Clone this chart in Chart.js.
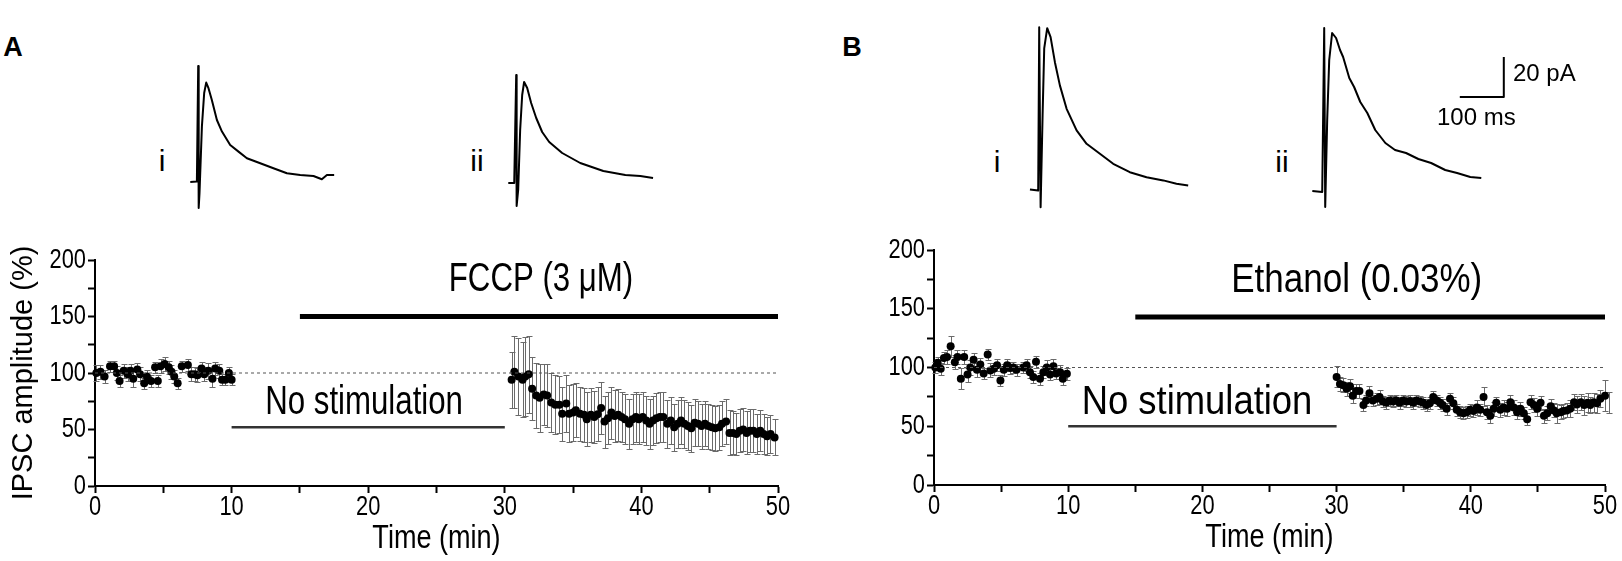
<!DOCTYPE html>
<html lang="en">
<head>
<meta charset="UTF-8">
<title>IPSC amplitude: FCCP vs ethanol</title>
<script src="https://cdn.jsdelivr.net/npm/chart.js@4.4.0/dist/chart.umd.min.js"></script>
<style>
  html, body { margin: 0; padding: 0; background: #fff; }
  #fig { position: relative; width: 1622px; height: 561px; overflow: hidden;
         font-family: 'Liberation Sans', Arial, sans-serif; color: #000; }
  #fig canvas { position: absolute; }
  .lbl { position: absolute; line-height: 1; white-space: nowrap; transform: translate(-50%, -50%); }
  .left { transform: translate(0, -50%); }
  .panel { font-weight: bold; font-size: 27px; }
  .roman { font-size: 30px; }
  .scale { font-size: 24px; }
</style>
</head>
<body>
<div id="fig">
  <canvas id="traceAi" width="176" height="220" style="left:185px;top:2px"></canvas>
  <canvas id="traceAii" width="176" height="220" style="left:503px;top:3px"></canvas>
  <canvas id="traceBi" width="176" height="220" style="left:1026px;top:10px"></canvas>
  <canvas id="traceBii" width="176" height="220" style="left:1311px;top:12px"></canvas>
  <canvas id="scaleBar" width="62" height="60" style="left:1451px;top:47px"></canvas>
  <canvas id="chartA" width="800" height="331" style="left:0;top:230px"></canvas>
  <canvas id="chartB" width="802" height="341" style="left:820px;top:220px"></canvas>

  <div class="lbl panel" style="left:13px;top:47px">A</div>
  <div class="lbl panel" style="left:852px;top:47px">B</div>
  <div class="lbl roman" style="left:162px;top:161px">i</div>
  <div class="lbl roman" style="left:477px;top:161px">ii</div>
  <div class="lbl roman" style="left:997px;top:162px">i</div>
  <div class="lbl roman" style="left:1282px;top:162px">ii</div>
  <div class="lbl scale left" style="left:1513px;top:73px">20 pA</div>
  <div class="lbl scale left" style="left:1437px;top:117px">100 ms</div>
</div>

<script>
// ---- time course, panel A (FCCP) ----
const tA1 = [0.1,0.4,0.7,1.1,1.4,1.6,1.8,2.1,2.4,2.6,2.8,3.1,3.3,3.6,3.8,4.1,4.4,4.6,4.8,5.1,
             5.4,5.6,5.8,6.05,6.35,6.8,7.05,7.3,7.5,7.8,8.0,8.3,8.6,8.8,9.1,9.3,9.55,9.8,10.0];
const yA1 = [100,101,97,106,106,100,93,102,99,102,95,103,99,91,97,93,105,93,106,108,
             105,101,97,91,106,107,99,99,98,104,99,102,95,104,102,94,94,100,94];
const eA1 = [7,6,6,5,5,6,5,6,6,6,7,6,6,5,6,5,5,5,6,6,6,6,6,5,5,5,6,6,6,6,6,7,7,6,6,5,5,5,5];

const tA2 = [30.5,30.7,31.0,31.3,31.5,31.75,32.0,32.3,32.55,32.85,33.1,33.4,33.7,34.0,34.2,34.5,
             34.7,35.0,35.2,35.5,35.8,36.0,36.3,36.55,36.8,37.05,37.3,37.55,37.8,38.05,38.3,
             38.55,38.8,39.1,39.35,39.6,39.8,40.1,40.35,40.6,40.85,41.1,41.35,41.6,41.9,42.15,
             42.4,42.65,42.9,43.15,43.4,43.65,43.9,44.15,44.4,44.65,44.9,45.15,45.4,45.7,45.9,
             46.2,46.45,46.7,46.95,47.2,47.45,47.7,47.95,48.2,48.45,48.7,48.95,49.2,49.45,49.75];
const yA2 = [94,101,97,94,97,99,86,80,78,81,80,74,72,72,64,73,64,65,67,64,63,59,63,61,63.5,69,
             57,60,65,62,63,61,59,55,59,61,59,61,58,55,58,60,61,61,55,58,52,55,58,55,53,51,56,
             55,53,55,53,52,51,52,55,57,47,47,46,49,50,47,49,49,46,49,46,44,46,43];
const eA2 = [25,32,34,33,35,34,28,29,30,27,28,26,26,25,24,25,25,25,24,24,24,24,24,23,24,23,
             23,23,23,23,23,22,22,22,22,22,22,22,22,22,22,22,22,22,21,21,21,21,21,21,21,21,21,
             20,20,20,20,20,20,20,20,20,20,19,19,19,19,19,19,19,18,18,18,17,17,16];

// ---- time course, panel B (vehicle) ----
const tB1 = [0.1,0.27,0.5,0.74,0.97,1.24,1.55,1.75,2.0,2.25,2.5,2.7,2.95,3.2,3.45,3.7,4.0,4.2,4.45,4.7,
             4.95,5.2,5.45,5.7,5.9,6.15,6.65,6.9,7.15,7.4,7.6,7.9,8.15,8.4,8.65,8.9,9.1,9.4,9.6,9.9];
const yB1 = [100,104,99,108,109,118,104.5,109,90.5,109,94,100,106.5,98,102.5,95,111,97.5,99,102,
             89,98,102,99.5,100,98,100,102,96,92,105,90.5,96,100,94,101,95,96,90.5,94.6];
const eB1 = [5,5,5,5,6,9,6,6,9,6,6,6,6,6,6,5,5,6,5,5,5,5,5,5,5,5,5,5,5,5,5,5,5,6,5,6,5,6,5,5];

const tB2 = [30.0,30.25,30.5,30.75,31.0,31.2,31.45,31.7,32.0,32.2,32.45,32.7,33.0,33.2,33.45,33.7,
             33.95,34.2,34.45,34.7,34.95,35.2,35.45,35.7,35.95,36.2,36.45,36.7,36.95,37.2,37.45,
             37.7,37.9,38.2,38.45,38.7,38.95,39.2,39.45,39.7,39.95,40.2,40.45,40.7,40.95,41.2,
             41.45,41.7,41.9,42.2,42.45,42.7,42.95,43.2,43.45,43.7,43.95,44.2,44.45,44.7,44.95,
             45.2,45.45,45.7,45.95,46.2,46.4,46.7,46.9,47.15,47.4,47.7,47.9,48.2,48.45,48.7,
             48.9,49.15,49.4,49.65,50.0,50.3];
const yB2 = [92,86,85,82,84,76,80,80,68,72,78,72,73.5,75,71,70,72,71,72,70,72,71,71.5,70,72,71,70,
             68,69.5,75,72,70,68,65,73.5,69.5,64,62,61,62,64,63,66,64,75,62,59,65,70,64,66,65,
             70.5,66,62,65,61,56,70.5,68,65,70,59,61,67,63.5,61,62,63,63.5,65,70.5,68.5,70.5,68,
             70,68,70.5,69.5,73.5,76,70];
const eB2 = [9,6,6,6,6,6,6,6,5,5,6,5,5,6,5,5,5,5,5,5,5,5,5,5,5,5,5,5,5,5,5,5,5,5,5,5,5,5,5,5,
             5,5,6,5,8,6,6,6,5,6,6,6,6,6,6,6,5,5,6,6,6,6,6,6,6,6,8,6,6,6,7,7,7,7,8,8,7,8,8,7,13,9];

// protocol bars: [start, end] in min and the level (%) they sit at
const baselineLevel = 100;
const drugBarA = [15, 50], drugLevelA = 150;
const drugBarB = [15, 50], drugLevelB = 143;
const noStimBarA = [10, 30], noStimLevelA = 52;
const noStimBarB = [10, 30], noStimLevelB = 50;

// ---- example traces: time (ms) from stimulus, current (pA) above baseline ----
const trAi_t = [-18,-3,0,1.1,3,8.4,13.6,18.2,23.4,31,42.5,54,72.7,91.6,110.7,141,171,201.6,231.8,262,281,292.5,309];
const trAi_i = [0,0.2,58,-13,-5.5,27.7,44.5,49.7,46.9,41,31,25.2,18.5,15.2,11.9,9.4,6.9,4.4,3.5,3,1.4,3.5,3.5];
const trAii_t = [-18,-4.5,0,1,4.5,9,13.6,18,25,34,45.5,59,75,104.5,145.5,198,248,282,311];
const trAii_i = [0,0,54,-11.5,-3.5,26.5,44,50.5,47.5,40,32.5,25.5,20.5,15,10,6,4,3.5,2.5];
const trBi_t = [-21,-2.3,0,3.2,7.7,11.4,18.2,25.9,35.7,47,62.3,85,107.7,138,168.2,206,244,282,312,338.6];
const trBi_i = [0.3,-0.3,81.4,-8.6,37.3,70.8,80.9,76.4,63.9,52.3,40.6,29.8,23.1,18.1,13.1,8.9,6.4,4.8,3.1,2.3];
const trBii_t = [-27,-4.5,0,2.3,6.8,11.4,18,27,36,43,57,68,82,98,116,139,161,186,214,243,275,302,332,357];
const trBii_i = [0.5,0,82,-7.5,36,66,79.5,77,71,67.5,57,52.5,45,39.5,31,24.5,21,19.5,16.5,14.5,11,9.5,7.5,7];
const scaleMs = 100, scalePA = 20;

const pts = (xs, ys) => xs.map((x, i) => ({x: x, y: ys[i]}));

const FAMILY = "'Liberation Sans', Arial, sans-serif";

// SEM bars, drawn under the points
const errorBars = {
  id: 'errorBars',
  beforeDatasetsDraw(chart) {
    const {ctx, scales: {x, y}} = chart;
    ctx.save();
    ctx.strokeStyle = '#6a6a6a';
    ctx.lineWidth = 1;
    chart.data.datasets.forEach(ds => {
      if (!ds.errors) return;
      ds.data.forEach((p, j) => {
        const e = ds.errors[j];
        const px = Math.round(x.getPixelForValue(p.x)) + 0.5;
        const top = Math.round(y.getPixelForValue(p.y + e)) + 0.5;
        const bot = Math.round(y.getPixelForValue(p.y - e)) + 0.5;
        ctx.beginPath();
        ctx.moveTo(px, top); ctx.lineTo(px, bot);
        ctx.moveTo(px - 3, top); ctx.lineTo(px + 3, top);
        ctx.moveTo(px - 3, bot); ctx.lineTo(px + 3, bot);
        ctx.stroke();
      });
    });
    ctx.restore();
  }
};

// the figure's lettering is horizontally condensed; draw tick labels, x title
// and the protocol notes with a horizontal squeeze, placed through the scales
const squeezedText = {
  id: 'squeezedText',
  afterDraw(chart, args, opts) {
    const {ctx, chartArea: a, scales: {x, y}} = chart;
    const put = (text, px, py, size, sx, align) => {
      ctx.save();
      ctx.translate(px, py);
      ctx.scale(sx, 1);
      ctx.font = size + 'px ' + FAMILY;
      ctx.fillStyle = '#000';
      ctx.textAlign = align || 'center';
      ctx.textBaseline = 'middle';
      ctx.fillText(text, 0, 0);
      ctx.restore();
    };
    x.ticks.forEach(t => {
      if (t.value % 10 === 0) put(String(t.value), x.getPixelForValue(t.value), a.bottom + 21, 28, 0.78);
    });
    y.ticks.forEach(t => {
      if (t.value % 50 === 0) put(String(t.value), a.left - 9, y.getPixelForValue(t.value), 28, 0.78, 'right');
    });
    put(opts.xTitle, (a.left + a.right) / 2, a.bottom + 53, 33, 0.82);
    (opts.notes || []).forEach(n => put(n.text, x.getPixelForValue(n.x), y.getPixelForValue(n.y), n.size, n.sx));
  }
};

function timeCourse(id, cfg) {
  const segBar = (range, level, width, color) => ({
    type: 'line', data: [{x: range[0], y: level}, {x: range[1], y: level}],
    borderColor: color, borderWidth: width, pointRadius: 0, borderCapStyle: 'butt'
  });
  const dots = (xs, ys, es) => ({
    type: 'scatter', data: pts(xs, ys), errors: es,
    pointRadius: 4, pointBackgroundColor: '#000', pointBorderWidth: 0, clip: false
  });
  return new Chart(document.getElementById(id), {
    data: {
      datasets: [
        {type: 'line', data: [{x: 0, y: baselineLevel}, {x: 50, y: baselineLevel}],
         borderColor: '#555', borderWidth: 1.2, borderDash: [3, 3], pointRadius: 0},
        segBar(cfg.drugBar, cfg.drugLevel, 5, '#000'),
        segBar(cfg.noStimBar, cfg.noStimLevel, 2.5, '#333'),
        dots(cfg.t1, cfg.y1, cfg.e1),
        dots(cfg.t2, cfg.y2, cfg.e2)
      ]
    },
    options: {
      responsive: false,
      animation: false,
      events: [],
      layout: {padding: {top: 30, right: cfg.padRight, left: 0, bottom: 0}},
      plugins: {legend: {display: false}, tooltip: {enabled: false},
                squeezedText: {xTitle: 'Time (min)', notes: cfg.notes}},
      scales: {
        x: {
          type: 'linear', min: 0, max: 50,
          border: {color: '#000', width: 2},
          grid: {drawOnChartArea: false, color: '#000', tickColor: '#000', tickWidth: 2, tickLength: 7},
          ticks: {stepSize: 5, autoSkip: false, display: false},
          afterFit: s => { s.height = cfg.xHeight; }
        },
        y: {
          type: 'linear', min: 0, max: 200,
          border: {color: '#000', width: 2},
          grid: {drawOnChartArea: false, color: '#000', tickColor: '#000', tickWidth: 2, tickLength: 7},
          ticks: {stepSize: 25, autoSkip: false, display: false},
          title: {display: cfg.yTitle, text: 'IPSC amplitude (%)', color: '#000',
                  font: {family: FAMILY, size: 29}, padding: {top: 7, bottom: 0}},
          afterFit: s => { s.width = cfg.yWidth; }
        }
      }
    },
    plugins: [errorBars, squeezedText]
  });
}

timeCourse('chartA', {
  t1: tA1, y1: yA1, e1: eA1, t2: tA2, y2: yA2, e2: eA2,
  drugBar: drugBarA, drugLevel: drugLevelA, noStimBar: noStimBarA, noStimLevel: noStimLevelA,
  yWidth: 95, xHeight: 75, padRight: 22, yTitle: true,
  notes: [{text: 'FCCP (3 \u03BCM)', x: 32.65, y: 182, size: 40, sx: 0.78},
          {text: 'No stimulation', x: 19.7, y: 73.5, size: 40, sx: 0.78}]
});

timeCourse('chartB', {
  t1: tB1, y1: yB1, e1: eB1, t2: tB2, y2: yB2, e2: eB2,
  drugBar: drugBarB, drugLevel: drugLevelB, noStimBar: noStimBarB, noStimLevel: noStimLevelB,
  yWidth: 114, xHeight: 76, padRight: 17, yTitle: false,
  notes: [{text: 'Ethanol (0.03%)', x: 31.5, y: 174, size: 40, sx: 0.875},
          {text: 'No stimulation', x: 19.6, y: 70, size: 40, sx: 0.91}]
});

// example current traces share one scale (0.44 px/ms, 2 px/pA)
function trace(id, xs, ys, xr, yr) {
  return new Chart(document.getElementById(id), {
    type: 'line',
    data: {datasets: [{data: pts(xs, ys), borderColor: '#000', borderWidth: 2,
                       pointRadius: 0, tension: 0, clip: false, borderJoinStyle: 'round'}]},
    options: {
      responsive: false, animation: false, events: [],
      layout: {padding: 0},
      plugins: {legend: {display: false}, tooltip: {enabled: false}},
      scales: {
        x: {type: 'linear', display: false, min: xr[0], max: xr[1]},
        y: {type: 'linear', display: false, min: yr[0], max: yr[1]}
      }
    }
  });
}
const traceX = [-30, 370], traceY = [-20, 90];
trace('traceAi', trAi_t, trAi_i, traceX, traceY);
trace('traceAii', trAii_t, trAii_i, traceX, traceY);
trace('traceBi', trBi_t, trBi_i, traceX, traceY);
trace('traceBii', trBii_t, trBii_i, traceX, traceY);
trace('scaleBar', [-scaleMs, 0, 0], [0, 0, scalePA], [-120, 20.9], [-5, 25]);
</script>
</body>
</html>
